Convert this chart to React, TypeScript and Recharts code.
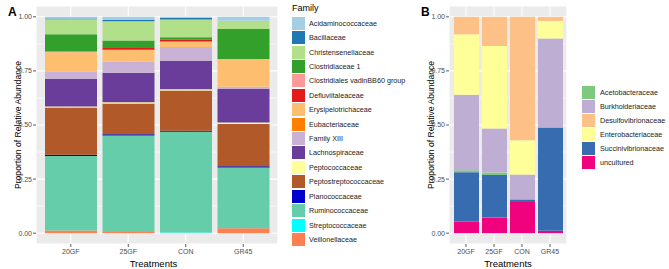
import React from 'react';
import { BarChart, Bar, XAxis, YAxis, CartesianGrid } from 'recharts';

// ---------- Panel A data ----------
const treatments = ['20GF', '25GF', 'CON', 'GR45'];
const familiesA = [
  'Acidaminococcaceae', 'Bacillaceae', 'Christensenellaceae', 'Clostridiaceae 1',
  'Clostridiales vadinBB60 group', 'Defluviitaleaceae', 'Erysipelotrichaceae', 'Eubacteriaceae',
  'Family XIII', 'Lachnospiraceae', 'Peptococcaceae', 'Peptostreptococcaceae',
  'Planococcaceae', 'Ruminococcaceae', 'Streptococcaceae', 'Veillonellaceae',
];
const colorsA = [
  '#A6CEE3', '#1F78B4', '#B2DF8A', '#33A02C', '#FB9A99', '#E31A1C', '#FDBF6F', '#FF7F00',
  '#CAB2D6', '#6A3D9A', '#FFFF99', '#B15928', '#0000CD', '#66CDAA', '#00FFFF', '#FF7F50',
];
const acidaminococcaceae = [0.008, 0.015, 0.006, 0.018];
const bacillaceae = [0.003, 0.006, 0.006, 0.0];
const christensenellaceae = [0.069, 0.089, 0.083, 0.038];
const clostridiaceae1 = [0.080, 0.034, 0.011, 0.139];
const clostridialesVadin = [0.004, 0.0, 0.0, 0.0];
const defluviitaleaceae = [0.0, 0.008, 0.008, 0.0];
const erysipelotrichaceae = [0.088, 0.055, 0.025, 0.128];
const eubacteriaceae = [0.0, 0.0, 0.0, 0.0];
const familyXIII = [0.035, 0.052, 0.065, 0.011];
const lachnospiraceae = [0.127, 0.136, 0.131, 0.154];
const peptococcaceae = [0.005, 0.006, 0.006, 0.007];
const peptostreptococcaceae = [0.219, 0.142, 0.185, 0.196];
const planococcaceae = [0.005, 0.006, 0.005, 0.006];
const ruminococcaceae = [0.345, 0.445, 0.466, 0.280];
const streptococcaceae = [0.0, 0.0, 0.003, 0.0];
const veillonellaceae = [0.012, 0.006, 0.0, 0.023];
const valuesA = [
  acidaminococcaceae, bacillaceae, christensenellaceae, clostridiaceae1, clostridialesVadin,
  defluviitaleaceae, erysipelotrichaceae, eubacteriaceae, familyXIII, lachnospiraceae,
  peptococcaceae, peptostreptococcaceae, planococcaceae, ruminococcaceae, streptococcaceae,
  veillonellaceae,
];

// ---------- Panel B data ----------
const familiesB = [
  'Acetobacteraceae', 'Burkholderiaceae', 'Desulfovibrionaceae',
  'Enterobacteriaceae', 'Succinivibrionaceae', 'uncultured',
];
const colorsB = ['#7FC97F', '#BEAED4', '#FDC086', '#FFFF99', '#386CB0', '#F0027F'];
const acetobacteraceae = [0.009, 0.011, 0.0, 0.0];
const burkholderiaceae = [0.349, 0.204, 0.115, 0.411];
const desulfovibrionaceae = [0.081, 0.135, 0.571, 0.019];
const enterobacteriaceae = [0.279, 0.381, 0.158, 0.081];
const succinivibrionaceae = [0.228, 0.197, 0.012, 0.478];
const uncultured = [0.054, 0.072, 0.144, 0.011];
const valuesB = [
  acetobacteraceae, burkholderiaceae, desulfovibrionaceae,
  enterobacteriaceae, succinivibrionaceae, uncultured,
];
// stacking order from bottom to top in panel B
const stackOrderB = ['uncultured', 'Succinivibrionaceae', 'Acetobacteraceae', 'Burkholderiaceae', 'Enterobacteriaceae', 'Desulfovibrionaceae'];

const yDomain = [-0.05, 1.05];
const yTicks = [0, 0.25, 0.5, 0.75, 1];
const yMinor = [0.125, 0.375, 0.625, 0.875];

const dataA = treatments.map((t, i) => {
  const row: Record<string, any> = { name: t };
  familiesA.forEach((f, j) => { row[f] = valuesA[j][i]; });
  return row;
});
const dataB = treatments.map((t, i) => {
  const row: Record<string, any> = { name: t };
  familiesB.forEach((f, j) => { row[f] = valuesB[j][i]; });
  return row;
});

const FONT = '"Liberation Sans", Arial, sans-serif';
const tickStyle = { fontSize: 7, fill: '#4D4D4D', fontFamily: FONT };

function minorGen(props: any) {
  const s = props?.yAxis?.scale;
  const out: number[] = [];
  for (const v of yMinor) {
    let p: any = undefined;
    try {
      if (typeof s === 'function') p = s(v);
      else if (s && typeof s.map === 'function') p = s.map(v);
      else if (s && typeof s.scale === 'function') p = s.scale(v);
    } catch (e) { p = undefined; }
    if (typeof p !== 'number' || isNaN(p)) {
      const off = props?.offset;
      if (!off) continue;
      p = off.top + ((yDomain[1] - v) / (yDomain[1] - yDomain[0])) * off.height;
    }
    out.push(p);
  }
  return out;
}

function YTitle({ viewBox, x }: any) {
  const cy = viewBox ? viewBox.y + viewBox.height / 2 : 125;
  return (
    <text x={x} y={cy} transform={`rotate(-90, ${x}, ${cy})`} textAnchor="middle"
      dominantBaseline="central" fontSize={8.6} fill="#000" fontFamily={FONT}>
      Proportion of Relative Abundance
    </text>
  );
}

function XTitle({ viewBox, shift }: any) {
  const cx = viewBox ? viewBox.x + viewBox.width / 2 : 157;
  return (
    <text x={cx + (shift || 0)} y={267} textAnchor="middle" fontSize={9.5} fill="#000" fontFamily={FONT}>
      Treatments
    </text>
  );
}

function Panel({ data, order, colorOf, width, margin, barSize, pad, yTitleX, titleShift }: any) {
  return (
    <BarChart width={width} height={269} data={data} margin={margin} barGap={0}>
      <CartesianGrid fill="#EBEBEB" stroke="#FFFFFF" strokeWidth={0.55} vertical={false}
        horizontalCoordinatesGenerator={minorGen} />
      <CartesianGrid stroke="#FFFFFF" strokeWidth={1.1} />
      <XAxis dataKey="name" type="category" height={25} padding={{ left: pad, right: pad }}
        axisLine={false} tickSize={3} tickMargin={2} tick={tickStyle}
        tickLine={{ stroke: '#333333', strokeWidth: 0.8 }} interval={0}
        label={<XTitle shift={titleShift} />} />
      <YAxis type="number" domain={yDomain} allowDataOverflow ticks={yTicks}
        tickFormatter={(v: number) => v.toFixed(2)} width={36} axisLine={false}
        tickSize={3} tickMargin={1} tick={tickStyle}
        tickLine={{ stroke: '#333333', strokeWidth: 0.8 }}
        label={<YTitle x={yTitleX} />} />
      {order.map((f: string) => (
        <Bar key={f} dataKey={f} stackId="s" fill={colorOf(f)} barSize={barSize}
          isAnimationActive={false} />
      ))}
    </BarChart>
  );
}

function LegendBlock({ title, items, colors, left, top, step, keyW, keyH, labelLeft }: any) {
  return (
    <>
      {title ? (
        <div style={{ position: 'absolute', left, top: top - 14, fontSize: 9, fontFamily: FONT, color: '#000', lineHeight: '10px' }}>
          {title}
        </div>
      ) : null}
      {items.map((it: string, i: number) => (
        <React.Fragment key={it}>
          <div style={{ position: 'absolute', left, top: top + i * step, width: keyW, height: keyH, background: colors[i] }} />
          <div style={{
            position: 'absolute', left: labelLeft, top: top + i * step, height: keyH, lineHeight: `${keyH}px`,
            fontSize: 7.2, fontFamily: FONT, color: '#222222', whiteSpace: 'nowrap',
          }}>{it}</div>
        </React.Fragment>
      ))}
    </>
  );
}

export default function App() {
  const orderA = [...familiesA].reverse();
  const colorA = (f: string) => colorsA[familiesA.indexOf(f)];
  const colorB = (f: string) => colorsB[familiesB.indexOf(f)];
  return (
    <div style={{ position: 'fixed', left: 0, top: 0, width: 669, height: 269, background: '#fff', overflow: 'hidden' }}>
      <div style={{ position: 'absolute', left: 0, top: 0 }}>
        <Panel data={dataA} order={orderA} colorOf={colorA} width={280}
          margin={{ top: 6, right: 2, left: 0, bottom: 0 }} barSize={52} pad={6} yTitleX={9} titleShift={-3.5} />
      </div>
      <div style={{ position: 'absolute', left: 413, top: 0 }}>
        <Panel data={dataB} order={stackOrderB} colorOf={colorB} width={155}
          margin={{ top: 6, right: 1, left: 0, bottom: 0 }} barSize={25} pad={3} yTitleX={10} titleShift={0} />
      </div>
      <div style={{ position: 'absolute', left: 8, top: 5, fontSize: 12, fontWeight: 'bold', fontFamily: FONT }}>A</div>
      <div style={{ position: 'absolute', left: 421, top: 5, fontSize: 12, fontWeight: 'bold', fontFamily: FONT }}>B</div>
      <LegendBlock title="Family" items={familiesA} colors={colorsA} left={292} top={16.7}
        step={14.42} keyW={12.6} keyH={13} labelLeft={309} />
      <LegendBlock title="" items={familiesB} colors={colorsB} left={582} top={86}
        step={14} keyW={13.3} keyH={13.3} labelLeft={600} />
    </div>
  );
}
